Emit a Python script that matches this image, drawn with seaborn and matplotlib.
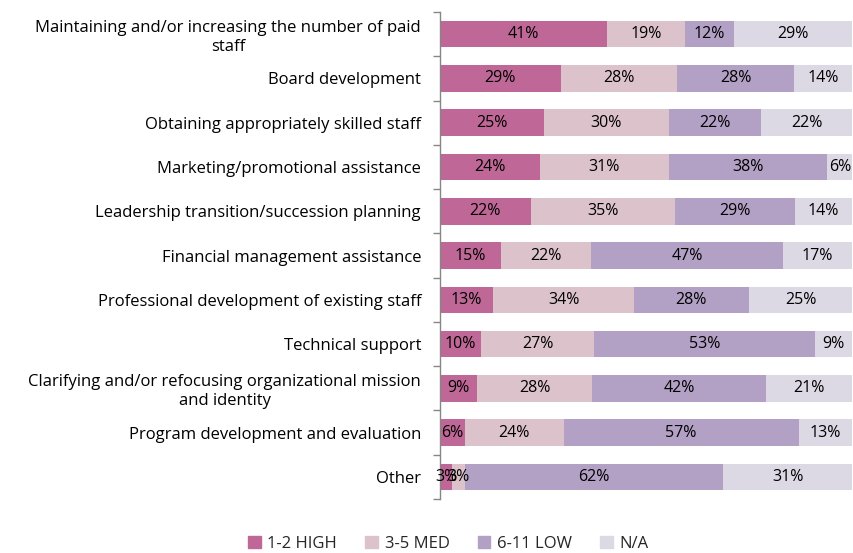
import matplotlib
matplotlib.use("Agg")
import matplotlib.pyplot as plt
import matplotlib.patches as mpatches
import seaborn as sns
import numpy as np
import pandas as pd

categories = [
    "Maintaining and/or increasing the number of paid\nstaff",
    "Board development",
    "Obtaining appropriately skilled staff",
    "Marketing/promotional assistance",
    "Leadership transition/succession planning",
    "Financial management assistance",
    "Professional development of existing staff",
    "Technical support",
    "Clarifying and/or refocusing organizational mission\nand identity",
    "Program development and evaluation",
    "Other",
]
high = [41, 29, 25, 24, 22, 15, 13, 10, 9, 6, 3]
med = [19, 28, 30, 31, 35, 22, 34, 27, 28, 24, 3]
low = [12, 28, 22, 38, 29, 47, 28, 53, 42, 57, 62]
na = [29, 14, 22, 6, 14, 17, 25, 9, 21, 13, 31]
series_names = ["1-2 HIGH", "3-5 MED", "6-11 LOW", "N/A"]
colors = ["#BF6897", "#DCC3CB", "#B3A0C5", "#DCD8E4"]

vals = np.array([high, med, low, na], dtype=float)
shares = vals / vals.sum(axis=0) * 100
cum = np.cumsum(shares, axis=0)

sns.set_style("white")
plt.rcParams["font.family"] = ["Open Sans", "DejaVu Sans"]

fig = plt.figure(figsize=(8.54, 5.53), dpi=100)
ax = fig.add_axes([0.515, 0.0976, 0.483, 0.8807])

for i in range(3, -1, -1):
    df = pd.DataFrame({"cat": categories, "x": cum[i]})
    sns.barplot(data=df, x="x", y="cat", orient="h", color=colors[i],
                saturation=1, width=0.6, ax=ax, linewidth=0)

for i in range(4):
    starts = cum[i] - shares[i]
    for j in range(len(categories)):
        ax.text(starts[j] + shares[i][j] / 2, j, f"{int(vals[i][j])}%",
                ha="center", va="center", fontsize=11.5, color="#000000")

ax.set_xlim(0, 100)
ax.set_ylim(len(categories) - 0.5, -0.5)
ax.set_xlabel("")
ax.set_ylabel("")
ax.set_xticks([])
for s in ["top", "right", "bottom"]:
    ax.spines[s].set_visible(False)
ax.spines["left"].set_color("#868686")
ax.spines["left"].set_linewidth(1)
ax.tick_params(axis="y", which="major", length=0, pad=13.5, labelsize=12, labelcolor="#000000")
ax.set_yticks(np.arange(-0.5, len(categories) + 0.5, 1), minor=True)
ax.tick_params(axis="y", which="minor", left=True, length=5, width=1, color="#868686", direction="out")
for lbl in ax.get_yticklabels():
    lbl.set_multialignment("center")

handles = [mpatches.Patch(color=c, label=n) for c, n in zip(colors, series_names)]
fig.legend(handles=handles, loc="lower center", bbox_to_anchor=(0.525, -0.025), ncol=4,
           frameon=False, fontsize=12, handlelength=0.75, handleheight=0.75,
           handletextpad=0.4, columnspacing=1.7)

fig.savefig("out.png", dpi=100)
